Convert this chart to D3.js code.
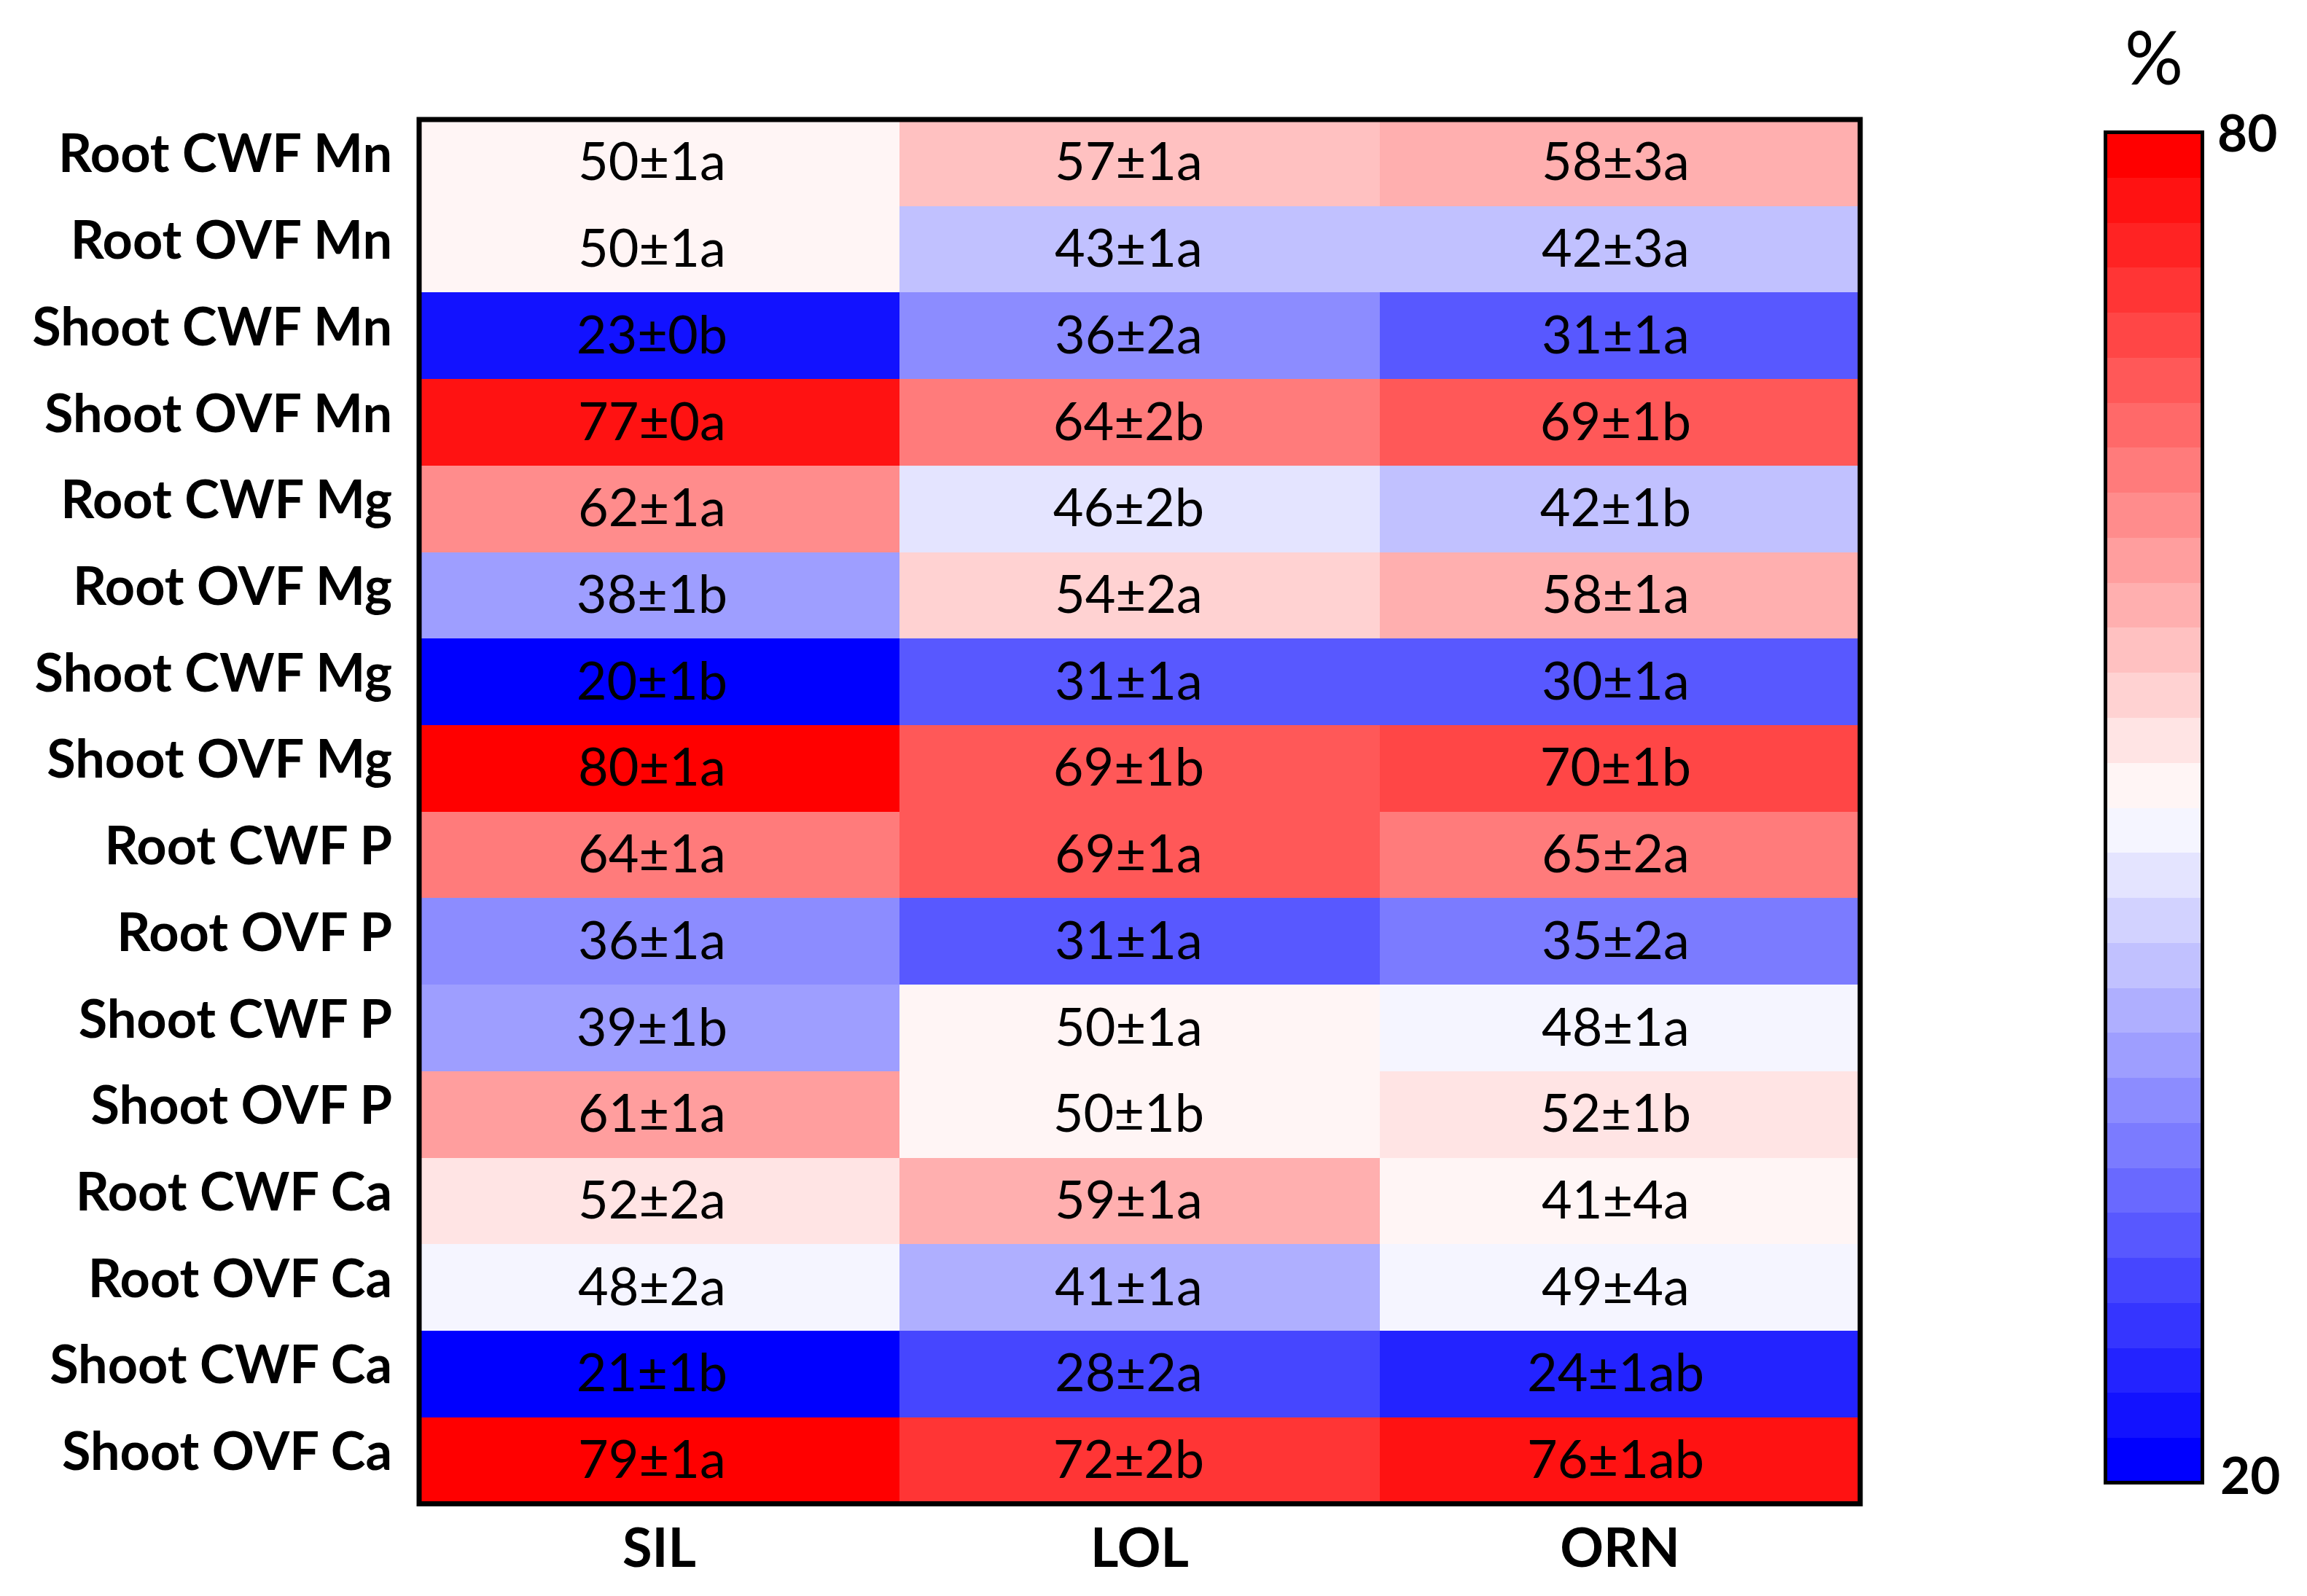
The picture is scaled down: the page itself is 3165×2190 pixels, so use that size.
<!DOCTYPE html>
<html>
<head>
<meta charset="utf-8">
<script src="https://cdn.jsdelivr.net/npm/d3@7"></script>
<style>
  html, body { margin: 0; padding: 0; background: #fff; }
  svg { display: block; }
  text { font-family: Lato, "Open Sans", sans-serif; fill: #000; }
</style>
</head>
<body>
<svg id="chart" width="3165" height="2190"></svg>
<script>
// ---------------- data ----------------
const rows = ["Root CWF Mn", "Root OVF Mn", "Shoot CWF Mn", "Shoot OVF Mn",
              "Root CWF Mg", "Root OVF Mg", "Shoot CWF Mg", "Shoot OVF Mg",
              "Root CWF P", "Root OVF P", "Shoot CWF P", "Shoot OVF P",
              "Root CWF Ca", "Root OVF Ca", "Shoot CWF Ca", "Shoot OVF Ca"];
const cols = ["SIL", "LOL", "ORN"];

// values used for cell colour (%)
const silValues = [50, 50, 23, 77, 62, 38, 20, 80, 64, 36, 39, 61, 52, 48, 21, 79];
const lolValues = [57, 43, 36, 64, 46, 54, 31, 69, 69, 31, 50, 50, 59, 41, 28, 72];
// ORN "Root CWF Ca" is drawn in the ~50-52 colour band in the original although labelled 41
const ornValues = [58, 42, 31, 69, 42, 58, 30, 70, 65, 35, 48, 52, 51, 49, 24, 76];

// cell texts
const silLabels = ["50±1a", "50±1a", "23±0b", "77±0a", "62±1a", "38±1b", "20±1b", "80±1a",
                   "64±1a", "36±1a", "39±1b", "61±1a", "52±2a", "48±2a", "21±1b", "79±1a"];
const lolLabels = ["57±1a", "43±1a", "36±2a", "64±2b", "46±2b", "54±2a", "31±1a", "69±1b",
                   "69±1a", "31±1a", "50±1a", "50±1b", "59±1a", "41±1a", "28±2a", "72±2b"];
const ornLabels = ["58±3a", "42±3a", "31±1a", "69±1b", "42±1b", "58±1a", "30±1a", "70±1b",
                   "65±2a", "35±2a", "48±1a", "52±1b", "41±4a", "49±4a", "24±1ab", "76±1ab"];

const colorDomain = [20, 80];
const colorTicks = ["20", "80"];
const colorTitle = "%";
const nSteps = 30;

// ---------------- build ----------------
(function () {
const valueCols = [silValues, lolValues, ornValues];
const labelCols = [silLabels, lolLabels, ornLabels];
const colShift = [-10, -15, -6];   // text sits slightly left of cell centre in the original
const cells = [];
cols.forEach((c, j) => rows.forEach((r, i) => {
  cells.push({ row: r, col: c, j: j, value: valueCols[j][i], label: labelCols[j][i] });
}));

// stepped blue-white-red palette (30 steps of 2 %)
const half = nSteps / 2;
const palette = d3.range(nSteps).map(i => {
  if (i < half) {
    const v = Math.round(17.5 * i);
    return d3.rgb(v, v, 255).formatHex();
  } else {
    const v = Math.round(17.5 * (nSteps - 1 - i));
    return d3.rgb(255, v, v).formatHex();
  }
});
const color = d3.scaleQuantize().domain(colorDomain).range(palette);

const svg = d3.select("#chart");

const pL = 575, pR = 2552, pT = 164, pB = 2063.5;
const x = d3.scaleBand().domain(cols).range([pL, pR]);
const y = d3.scaleBand().domain(rows).range([pT, pB]);

// cells
svg.append("g").selectAll("rect").data(cells).join("rect")
  .attr("x", d => x(d.col))
  .attr("y", d => y(d.row))
  .attr("width", x.bandwidth() + 0.5)
  .attr("height", y.bandwidth() + 0.5)
  .attr("fill", d => color(d.value))
  .attr("shape-rendering", "crispEdges");

// cell texts
svg.append("g").selectAll("text").data(cells).join("text")
  .attr("x", d => x(d.col) + x.bandwidth() / 2 + colShift[d.j])
  .attr("y", d => y(d.row) + y.bandwidth() / 2 + 24)
  .attr("text-anchor", "middle")
  .style("font-size", "72px")
  .text(d => d.label);

// border
svg.append("rect")
  .attr("x", pL).attr("y", pT)
  .attr("width", pR - pL).attr("height", pB - pT)
  .attr("fill", "none").attr("stroke", "#000").attr("stroke-width", 7);

// row labels
svg.append("g").selectAll("text").data(rows).join("text")
  .attr("x", 538)
  .attr("y", d => y(d) + y.bandwidth() / 2 + 13)
  .attr("text-anchor", "end")
  .style("font-size", "72px")
  .style("font-weight", "bold")
  .text(d => d);

// column labels
svg.append("g").selectAll("text").data(cols).join("text")
  .attr("x", d => x(d) + x.bandwidth() / 2)
  .attr("y", 2150)
  .attr("text-anchor", "middle")
  .style("font-size", "74px")
  .style("font-weight", "bold")
  .text(d => d);

// colour bar
const cbL = 2888.5, cbR = 3021.5, cbT = 181.5, cbB = 2034.5;
const cy = d3.scaleLinear().domain(colorDomain).range([cbB, cbT]);
const stepSize = (colorDomain[1] - colorDomain[0]) / nSteps;
svg.append("g").selectAll("rect").data(d3.range(nSteps)).join("rect")
  .attr("x", cbL)
  .attr("width", cbR - cbL)
  .attr("y", i => cy(colorDomain[0] + (i + 1) * stepSize))
  .attr("height", i => cy(colorDomain[0] + i * stepSize) - cy(colorDomain[0] + (i + 1) * stepSize) + 0.5)
  .attr("fill", i => palette[i])
  .attr("shape-rendering", "crispEdges");
svg.append("rect")
  .attr("x", cbL).attr("y", cbT)
  .attr("width", cbR - cbL).attr("height", cbB - cbT)
  .attr("fill", "none").attr("stroke", "#000").attr("stroke-width", 5);

// colour bar labels
svg.append("text").attr("x", 3042).attr("y", 208)
  .style("font-size", "71px").style("font-weight", "bold").text(colorTicks[1]);
svg.append("text").attr("x", 3046).attr("y", 2050)
  .style("font-size", "71px").style("font-weight", "bold").text(colorTicks[0]);
svg.append("text").attr("x", (cbL + cbR) / 2).attr("y", 116)
  .attr("text-anchor", "middle")
  .style("font-size", "100px").text(colorTitle);
})();
</script>
</body>
</html>
